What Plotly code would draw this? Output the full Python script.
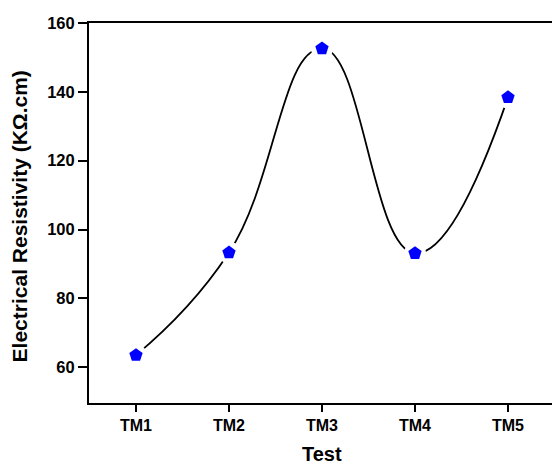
import plotly.graph_objects as go

tests = ["TM1", "TM2", "TM3", "TM4", "TM5"]
resistivity = [63.5, 93.3, 152.6, 93.1, 138.4]
xpos = [1, 2, 3, 4, 5]
ytick_vals = [60, 80, 100, 120, 140, 160]

font_main = "Liberation Sans, Arial, sans-serif"

fig = go.Figure()
fig.add_trace(go.Scatter(
    x=xpos, y=resistivity, mode="lines",
    line=dict(color="black", width=1.8, shape="spline", smoothing=1.3),
    showlegend=False, hoverinfo="skip"))
# white halo to create the small gap between curve and symbols
fig.add_trace(go.Scatter(
    x=xpos, y=resistivity, mode="markers",
    marker=dict(symbol="circle", size=22, color="white", line=dict(width=0)),
    showlegend=False, hoverinfo="skip"))
fig.add_trace(go.Scatter(
    x=xpos, y=resistivity, mode="markers",
    marker=dict(symbol="pentagon", size=14, color="#0000ff", line=dict(width=0)),
    showlegend=False, cliponaxis=False))

fig.update_layout(
    width=552, height=462,
    margin=dict(l=89, r=0, t=23, b=59),
    paper_bgcolor="white", plot_bgcolor="white",
    font=dict(family=font_main, color="black"),
    xaxis=dict(
        range=[0.495, 5.473], tickmode="array", tickvals=xpos, ticktext=tests,
        showline=True, linecolor="black", linewidth=2, mirror=True,
        ticks="outside", ticklen=7, tickwidth=2, tickcolor="black",
        showgrid=False, zeroline=False, automargin=False,
        tickfont=dict(size=16, family=font_main, weight="bold"),
    ),
    yaxis=dict(
        range=[49.6, 160], tickmode="array", tickvals=ytick_vals,
        showline=True, linecolor="black", linewidth=2, mirror=False,
        ticks="outside", ticklen=9, tickwidth=2, tickcolor="black",
        showgrid=False, zeroline=False, automargin=False,
        tickfont=dict(size=16.5, family=font_main, weight="bold"),
    ),
    annotations=[
        dict(text="<b>Electrical Resistivity (KΩ.cm)</b>", xref="paper", yref="paper",
             x=0, y=0.491, xshift=-70, xanchor="center", yanchor="middle",
             textangle=-90, showarrow=False, font=dict(size=21, family=font_main)),
        dict(text="<b>Test</b>", xref="x", yref="paper",
             x=3, y=0, yshift=-51, xanchor="center", yanchor="middle",
             showarrow=False, font=dict(size=20, family=font_main)),
    ],
)
fig.write_html(
    "out.html",
    config={"displayModeBar": False},
    post_script="document.body.style.margin='0';document.body.style.overflow='hidden';",
)
